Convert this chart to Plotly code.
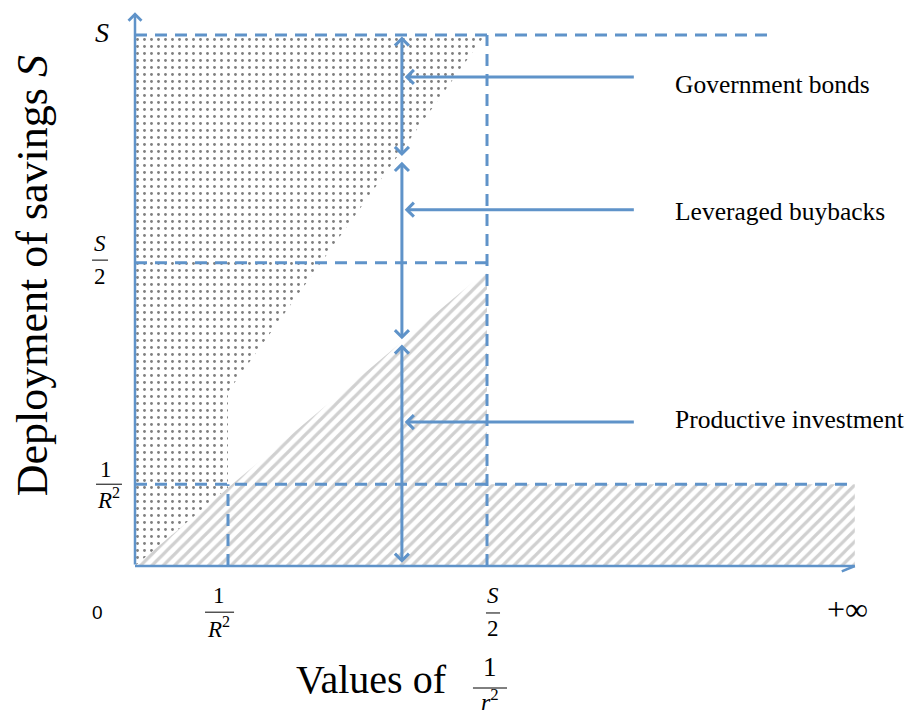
import plotly.graph_objects as go

BLUE = "#5f93c9"
SERIF = "Liberation Serif"

# ---- schematic data (x unit = 1/R^2, y unit = S) ----
x_ticks = [0.0, 1.0, 3.785]          # 0, 1/R^2, S/2
x_axis_end = 7.74
top_dash_end = 6.83
y_levels = [0.154, 0.571, 1.0]       # 1/R^2, S/2, S
y_axis_top = 1.043

hatch_x = [0.0, 3.785, 3.785, 7.74, 7.74, 0.0]
hatch_y = [0.0, 0.557, 0.154, 0.154, 0.0, 0.0]
dot_x = [0.0, 3.763, 1.0, 1.0, 0.0, 0.0]
dot_y = [1.0, 1.0, 0.328, 0.147, 0.0, 1.0]

categories = ["Government bonds", "Leveraged buybacks", "Productive investment"]
label_arrow_y = [0.921, 0.671, 0.271]
label_text_y = [0.906, 0.668, 0.275]
label_arrow_x = [2.90, 5.38]         # tip, tail
label_text_x = 5.79

arrow_x = 2.87
segment_top = [1.0, 0.764, 0.420]
segment_bottom = [0.772, 0.427, 0.006]

fig = go.Figure()

# regions
fig.add_trace(go.Scatter(
    x=dot_x, y=dot_y, mode="lines", fill="toself", line=dict(width=0),
    fillcolor="white",
    fillpattern=dict(shape=".", fgcolor="black", bgcolor="white", size=7, solidity=0.13),
    hoverinfo="skip", showlegend=False))
fig.add_trace(go.Scatter(
    x=hatch_x, y=hatch_y, mode="lines", fill="toself", line=dict(width=0),
    fillcolor="white",
    fillpattern=dict(shape="/", fgcolor="#a2a2a2", bgcolor="white", size=8, solidity=0.4),
    hoverinfo="skip", showlegend=False))

dash = "12px,8px"
def hline(x0, x1, y, d=dash, w=3):
    fig.add_shape(type="line", x0=x0, x1=x1, y0=y, y1=y, xref="x", yref="y",
                  line=dict(color=BLUE, width=w, dash=d))
def vline(x, y0, y1, d=dash, w=3):
    fig.add_shape(type="line", x0=x, x1=x, y0=y0, y1=y1, xref="x", yref="y",
                  line=dict(color=BLUE, width=w, dash=d))

# dashed guides
hline(0, top_dash_end, y_levels[2])
hline(0, x_ticks[2], y_levels[1])
hline(0, x_axis_end, y_levels[0])
vline(x_ticks[2], 0, y_levels[2])
vline(x_ticks[1], 0, y_levels[0])

# axes
fig.add_shape(type="line", x0=0, x1=x_axis_end, y0=0, y1=0, xref="x", yref="y",
              line=dict(color=BLUE, width=2.5))
fig.add_shape(type="line", x0=x_axis_end, x1=x_axis_end - 0.14, y0=0, y1=-0.01,
              xref="x", yref="y", line=dict(color=BLUE, width=2.5))
fig.add_annotation(x=0, y=y_axis_top, ax=0, ay=0, xref="x", yref="y", axref="x", ayref="y",
                   text="", showarrow=True, arrowhead=4, arrowsize=1, arrowwidth=2.5,
                   arrowcolor=BLUE)

# vertical double arrows
for t, b in zip(segment_top, segment_bottom):
    fig.add_annotation(x=arrow_x, y=b, ax=arrow_x, ay=t, xref="x", yref="y",
                       axref="x", ayref="y", text="", showarrow=True,
                       arrowhead=4, startarrowhead=4, arrowside="end+start",
                       arrowsize=0.9, startarrowsize=0.9, arrowwidth=3, arrowcolor=BLUE)

# label arrows and labels
for name, ya, yt in zip(categories, label_arrow_y, label_text_y):
    fig.add_annotation(x=label_arrow_x[0], y=ya, ax=label_arrow_x[1], ay=ya, xref="x",
                       yref="y", axref="x", ayref="y", text="", showarrow=True,
                       arrowhead=4, arrowsize=0.9, arrowwidth=3, arrowcolor=BLUE)
    fig.add_annotation(x=label_text_x, y=yt, xref="x", yref="y", text=name,
                       showarrow=False, xanchor="left", yanchor="middle",
                       font=dict(family=SERIF, size=25.5, color="black"))

def txt(x, y, s, size, family=SERIF, angle=0):
    fig.add_annotation(x=x, y=y, xref="x", yref="y", text=s, showarrow=False,
                       xanchor="center", yanchor="middle", textangle=angle,
                       font=dict(family=family, size=size, color="black"))

def bar(x0, x1, y):
    fig.add_shape(type="line", x0=x0, x1=x1, y0=y, y1=y, xref="x", yref="y",
                  line=dict(color="black", width=1))

# y tick labels
txt(-0.355, 1.004, "<i>S</i>", 28)
txt(-0.376, 0.607, "<i>S</i>", 23); bar(-0.462, -0.290, 0.576); txt(-0.376, 0.546, "2", 23)
txt(-0.312, 0.181, "1", 23); bar(-0.419, -0.140, 0.154); txt(-0.290, 0.128, "<i>R</i><sup>2</sup>", 23)

# x tick labels
txt(-0.398, -0.087, "0", 19, family="Liberation Sans")
txt(0.903, -0.056, "1", 23); bar(0.753, 1.065, -0.087); txt(0.903, -0.115, "<i>R</i><sup>2</sup>", 23)
txt(3.849, -0.056, "<i>S</i>", 23); bar(3.774, 3.925, -0.0885); txt(3.849, -0.117, "2", 23)
txt(7.656, -0.081, "+∞", 32)

# axis titles
txt(2.538, -0.2147, "Values of", 40)
txt(3.817, -0.190, "1", 27); bar(3.634, 4.0, -0.2298); txt(3.817, -0.252, "<i>r</i><sup>2</sup>", 24)
txt(-1.10, 0.547, "Deployment of savings <i>S</i>", 44, angle=-90)

# figure is placed 8px into the page (body margin); ranges keep the same pixel scale
fig.update_xaxes(range=[-1.3656, 8.2903], visible=False, showgrid=False, zeroline=False)
fig.update_yaxes(range=[-0.2844, 1.0508], visible=False, showgrid=False, zeroline=False)
fig.update_layout(width=898, height=709, autosize=False,
                  margin=dict(l=0, r=0, t=0, b=0),
                  paper_bgcolor="white", plot_bgcolor="white", showlegend=False)

fig.write_html("out.html")
